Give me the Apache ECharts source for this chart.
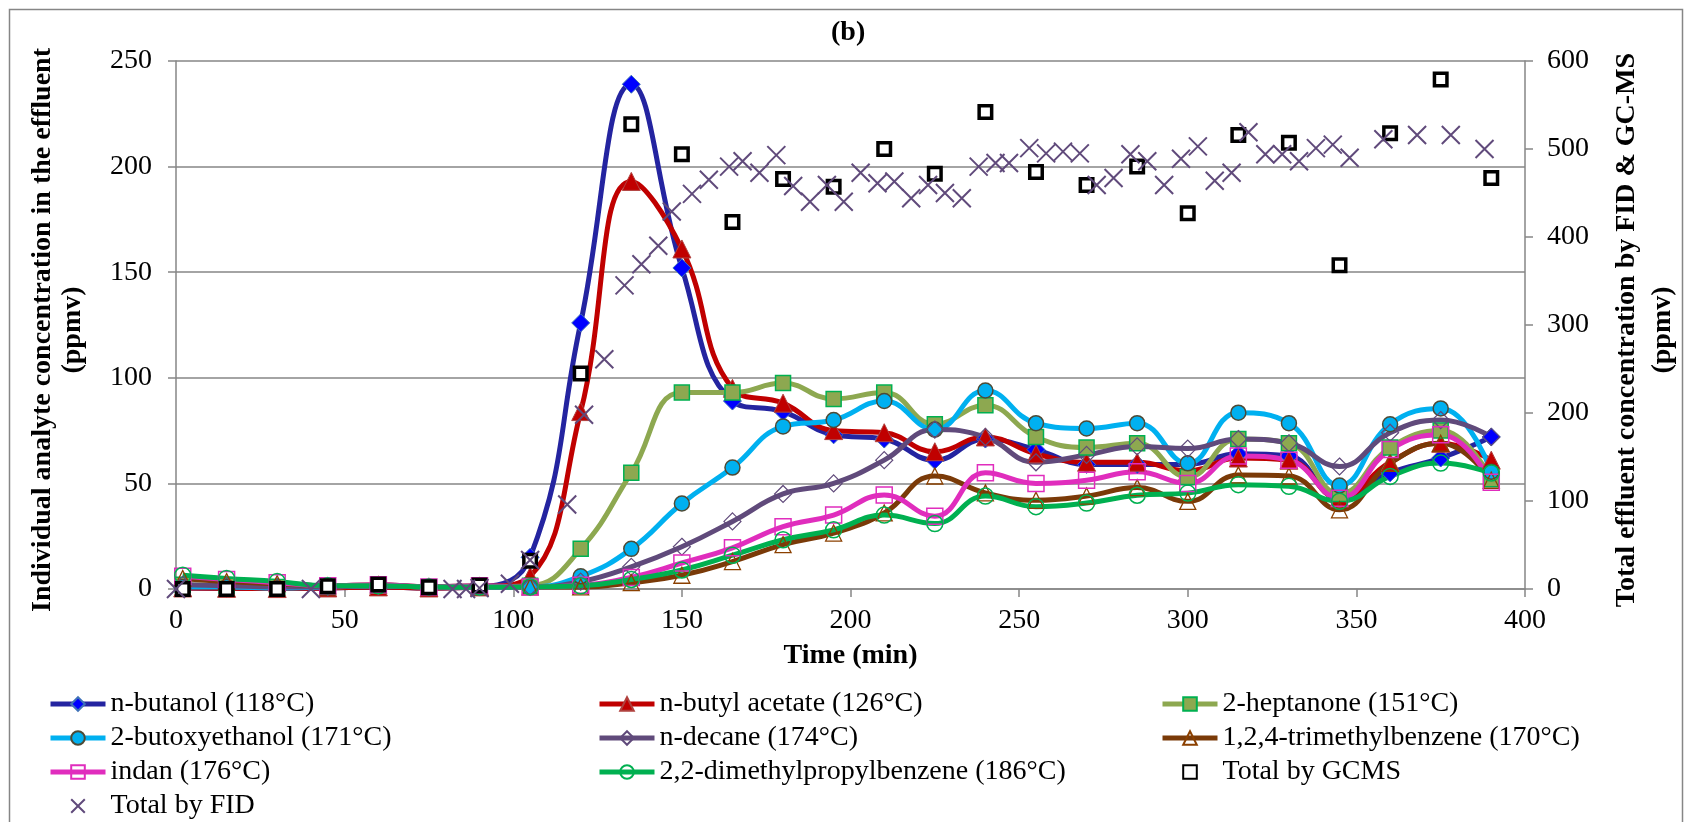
<!DOCTYPE html>
<html>
<head>
<meta charset="utf-8">
<script src="https://cdn.jsdelivr.net/npm/echarts@6/dist/echarts.min.js"></script>
<style>
  html, body { margin: 0; padding: 0; background: #fff; }
  #chart { width: 1684px; height: 822px; }
</style>
</head>
<body>
<div id="chart"></div>
<script>
// sampling times (min) of the individual analytes and GC-MS totals
const times = [2, 15, 30, 45, 60, 75, 90, 105, 120, 135, 150, 165, 180, 195, 210, 225, 240, 255, 270, 285, 300, 315, 330, 345, 360, 375, 390];

// individual analytes (ppmv, left axis)
const nButanol = [0.5, 0.3, 0.2, 0.5, 1, 0.5, 1, 15, 126, 239, 152, 89, 84, 73, 71, 61, 71, 66, 59, 59, 59, 64, 63, 43, 55, 62, 72];
const nButylAcetate = [0.5, 0.3, 0.2, 0.5, 1, 0.5, 1, 6, 84, 193, 161, 95, 88, 75, 74, 65, 72, 64, 60, 60, 56, 62, 61, 43, 60, 69, 61];
const heptanone = [2, 1.5, 1, 1, 1.5, 1, 1, 1.5, 19, 55, 93, 93, 97.5, 90, 93, 78, 87, 72, 67, 69, 53, 71, 69, 45, 67, 75, 52];
const butoxyethanol = [1, 1, 0.5, 1, 1.5, 1, 1, 1, 6, 19, 40.5, 57.5, 77, 80, 89, 75.5, 94, 78.5, 76, 78.5, 59.5, 83.5, 78.5, 49, 78, 85.5, 55.5];
const nDecane = [2, 1.5, 1, 1, 1.5, 1, 1, 1, 3.5, 10.5, 20, 32, 45, 50, 61, 75.5, 72, 60, 63.5, 67.5, 66.5, 71, 69, 58, 74, 80, 72];
const trimethylbenzene = [5, 3.5, 2.5, 1.5, 2, 1, 1.5, 1, 1, 3, 6.5, 13, 21, 26.5, 36, 53.5, 45.5, 42, 44, 48, 41.5, 54, 53.5, 37.5, 59.5, 69, 51.5];
const indan = [6, 4.5, 3, 1.5, 2, 1, 1.5, 1, 1.8, 5.5, 12.3, 19.5, 29.5, 35, 44.5, 34.5, 55, 50, 51.5, 55.5, 50, 63, 61, 43, 66, 73, 50.5];
const dimethylpropylbenzene = [6.5, 5, 3.5, 1.5, 1.5, 1, 1, 1, 1.5, 4.5, 9, 16, 23.3, 28, 35, 31, 44, 39, 40.7, 44.4, 45.4, 49.4, 48.6, 41.5, 53.3, 59.6, 54.9];

// totals (ppmv, right axis)
const totalGCMS = [0, 0, 0, 3, 5, 2, 4, 32, 245, 528, 494, 417, 466, 457, 500, 472, 542, 474, 459, 480, 427, 516, 507, 368, 518, 579, 467];
const fidTimes = [0, 40, 82, 86, 90, 99, 105, 116, 121, 127, 133, 138, 143, 147, 153, 158, 164, 168, 173, 178, 183, 188, 193, 198, 203, 208, 213, 218, 223, 228, 233, 238, 243, 247, 253, 258, 263, 268, 273, 278, 283, 288, 293, 298, 303, 308, 313, 318, 323, 328, 333, 338, 343, 348, 358, 368, 378, 388];
const totalFID = [0, 0, 0, 0, 1, 6, 33, 96, 198, 261, 345, 369, 390, 429, 449, 465, 480, 486, 473, 493, 458, 440, 459, 440, 473, 461, 463, 444, 459, 450, 444, 480, 484, 484, 501, 495, 497, 495, 459, 467, 494, 486, 459, 489, 503, 464, 473, 519, 494, 494, 486, 501, 505, 490, 511, 516, 516, 500];

// axis ticks
const xTicks = { min: 0, max: 400, interval: 50 };
const leftTicks = { min: 0, max: 250, interval: 50 };
const rightTicks = { min: 0, max: 600, interval: 100 };

const FONT = "'Liberation Serif', 'Times New Roman', serif";
const GREY = '#868686';
const NOFILL = 'rgba(0,0,0,0)';

function pairs(xs, ys) {
  return xs.map((x, i) => [x, ys[i]]);
}

function analyte(name, values, lineColor, symbol, size, fill, border, borderWidth) {
  return {
    name: name,
    type: 'line',
    smooth: 0.45,
    data: pairs(times, values),
    symbol: symbol,
    symbolSize: size,
    color: lineColor,
    lineStyle: { color: lineColor, width: 5 },
    itemStyle: { color: fill, borderColor: border, borderWidth: borderWidth },
    emphasis: { disabled: true }
  };
}

const series = [
  analyte('n-butanol (118°C)', nButanol, '#2424A0', 'diamond', 18, '#0000FF', '#3F72B8', 1),
  analyte('n-butyl acetate (126°C)', nButylAcetate, '#C00000', 'triangle', 18, '#C00000', '#B0413E', 1),
  analyte('2-heptanone (151°C)', heptanone, '#8DA850', 'rect', 15, '#8DA850', '#00B050', 1.5),
  analyte('2-butoxyethanol (171°C)', butoxyethanol, '#00B0F0', 'circle', 15, '#00B0F0', '#4E4A35', 1.5),
  analyte('n-decane (174°C)', nDecane, '#604A7B', 'diamond', 17, NOFILL, '#604A7B', 1.2),
  analyte('1,2,4-trimethylbenzene (170°C)', trimethylbenzene, '#7A3A08', 'triangle', 16, NOFILL, '#8B4000', 1.3),
  analyte('indan (176°C)', indan, '#E02DBD', 'rect', 16, NOFILL, '#E02DBD', 1.5),
  analyte('2,2-dimethylpropylbenzene (186°C)', dimethylpropylbenzene, '#00B050', 'circle', 16, NOFILL, '#00B050', 1.5),
  {
    name: 'Total by GCMS',
    type: 'line',
    yAxisIndex: 1,
    data: pairs(times, totalGCMS),
    symbol: 'rect',
    symbolSize: 12.5,
    color: '#000',
    lineStyle: { width: 0, color: NOFILL },
    itemStyle: { color: '#fff', borderColor: '#000', borderWidth: 3.5 },
    emphasis: { disabled: true }
  },
  {
    name: 'Total by FID',
    type: 'line',
    yAxisIndex: 1,
    data: pairs(fidTimes, totalFID),
    symbol: 'path://M0,0L10,10M10,0L0,10',
    symbolSize: 18,
    color: '#604A7B',
    lineStyle: { width: 0, color: NOFILL },
    itemStyle: { color: 'none', borderColor: '#604A7B', borderWidth: 2 },
    emphasis: { disabled: true }
  }
];

function legendCol(left, names) {
  return {
    orient: 'vertical',
    left: left,
    top: 690,
    padding: 0,
    itemWidth: 55,
    itemHeight: 17,
    itemGap: 6,
    selectedMode: false,
    data: names,
    lineStyle: { width: 5 },
    textStyle: { fontFamily: FONT, fontSize: 28, color: '#000' }
  };
}

const chart = echarts.init(document.getElementById('chart'));
chart.setOption({
  backgroundColor: '#fff',
  animation: false,
  title: {
    text: '(b)',
    left: 831,
    top: 19,
    padding: 0,
    textStyle: { fontFamily: FONT, fontSize: 28, fontWeight: 'bold', color: '#000' }
  },
  grid: { left: 176, top: 61, width: 1349, height: 528 },
  legend: [
    legendCol(48, ['n-butanol (118°C)', '2-butoxyethanol (171°C)', 'indan (176°C)', 'Total by FID']),
    legendCol(597, ['n-butyl acetate (126°C)', 'n-decane (174°C)', '2,2-dimethylpropylbenzene (186°C)']),
    legendCol(1160, ['2-heptanone (151°C)', '1,2,4-trimethylbenzene (170°C)', 'Total by GCMS'])
  ],
  xAxis: {
    type: 'value',
    min: xTicks.min,
    max: xTicks.max,
    interval: xTicks.interval,
    name: 'Time (min)',
    nameLocation: 'middle',
    nameGap: 53,
    nameTextStyle: { fontFamily: FONT, fontSize: 28, fontWeight: 'bold', color: '#000' },
    axisLine: { onZero: false, lineStyle: { color: GREY, width: 1.5 } },
    axisTick: { show: true, length: 8, lineStyle: { color: GREY, width: 1.5 } },
    axisLabel: { margin: 18, fontFamily: FONT, fontSize: 28, color: '#000' },
    splitLine: { show: false }
  },
  yAxis: [
    {
      type: 'value',
      position: 'left',
      min: leftTicks.min,
      max: leftTicks.max,
      interval: leftTicks.interval,
      axisLine: { show: true, lineStyle: { color: GREY, width: 1.5 } },
      axisTick: { show: true, length: 8, lineStyle: { color: GREY, width: 1.5 } },
      axisLabel: { margin: 24, fontFamily: FONT, fontSize: 28, color: '#000' },
      splitLine: { show: true, lineStyle: { color: GREY, width: 1.5 } }
    },
    {
      type: 'value',
      position: 'right',
      min: rightTicks.min,
      max: rightTicks.max,
      interval: rightTicks.interval,
      axisLine: { show: true, lineStyle: { color: GREY, width: 1.5 } },
      axisTick: { show: true, length: 8, lineStyle: { color: GREY, width: 1.5 } },
      axisLabel: { margin: 22, fontFamily: FONT, fontSize: 28, color: '#000' },
      splitLine: { show: false }
    }
  ],
  graphic: [
    {
      type: 'rect',
      silent: true,
      shape: { x: 9.5, y: 9.5, width: 1673, height: 840 },
      style: { fill: 'none', stroke: GREY, lineWidth: 1.5 }
    },
    {
      type: 'text', x: 43, y: 330, rotation: Math.PI / 2,
      style: { text: 'Individual analyte concentration in the effluent', font: 'bold 28px ' + FONT, fill: '#000', align: 'center', verticalAlign: 'middle' }
    },
    {
      type: 'text', x: 73, y: 330, rotation: Math.PI / 2,
      style: { text: '(ppmv)', font: 'bold 28px ' + FONT, fill: '#000', align: 'center', verticalAlign: 'middle' }
    },
    {
      type: 'text', x: 1627, y: 330, rotation: Math.PI / 2,
      style: { text: 'Total effluent concentration by FID & GC-MS', font: 'bold 28px ' + FONT, fill: '#000', align: 'center', verticalAlign: 'middle' }
    },
    {
      type: 'text', x: 1663, y: 330, rotation: Math.PI / 2,
      style: { text: '(ppmv)', font: 'bold 28px ' + FONT, fill: '#000', align: 'center', verticalAlign: 'middle' }
    }
  ],
  series: series
});
</script>
</body>
</html>
